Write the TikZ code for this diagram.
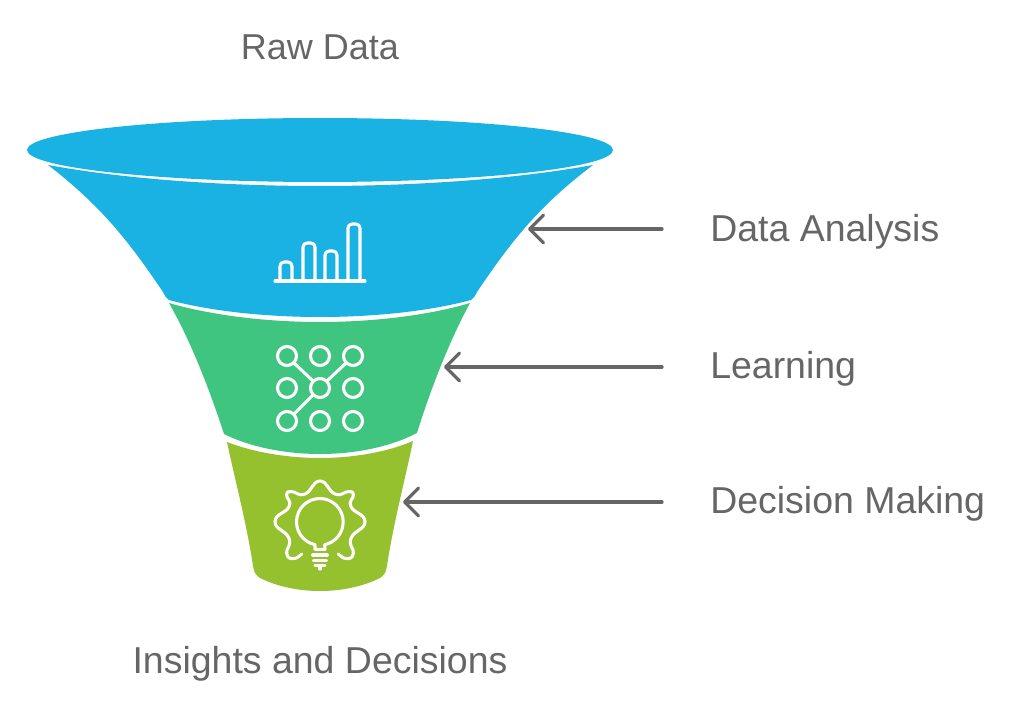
\documentclass[tikz,border=0pt]{standalone}
\usepackage{fontspec}
\setmainfont{Liberation Sans}
\usetikzlibrary{arrows.meta}
\definecolor{fblue}{HTML}{1AB1E3}
\definecolor{fgreen}{HTML}{40C580}
\definecolor{flime}{HTML}{95C12F}
\definecolor{ftext}{HTML}{666666}
\tikzset{
  lab/.style={text=ftext,font=\fontsize{28.1}{31}\selectfont,inner sep=0pt},
  pointer/.style={draw=ftext,line width=2.4pt,line cap=round,-{Straight Barb[length=10.5pt,width=21pt,round]}},
  icon/.style={draw=white,line width=2.3pt,line cap=round,line join=round},
  thinicon/.style={draw=white,line width=2.3pt,line cap=round,line join=round},
}
\begin{document}
\begin{tikzpicture}[x=0.75pt,y=-0.75pt]
\useasboundingbox[fill=white] (0,0) rectangle (1024,706);
% funnel
\fill[fblue] (320,150) ellipse [x radius=293, y radius=32];
\fill[fblue] (48,165) .. controls (130,180) and (230,186) .. (320,186)
  .. controls (410,186) and (510,180) .. (593,165)
  .. controls (540,205) and (512,240) .. (477,292)
  .. controls (475,296) and (474,298) .. (471,300)
  .. controls (430,311) and (375,317) .. (320,317)
  .. controls (265,317) and (210,311) .. (169,300)
  .. controls (166,298) and (165,296) .. (163,292)
  .. controls (128,240) and (100,205) .. (48,165) -- cycle;
\fill[fgreen] (169,303) .. controls (210,315) and (265,322) .. (320,322)
  .. controls (375,322) and (430,315) .. (470,303)
  .. controls (450,340) and (432,385) .. (417,433)
  .. controls (390,447) and (355,454) .. (320,454)
  .. controls (285,454) and (250,447) .. (224,434)
  .. controls (208,385) and (190,340) .. (169,303) -- cycle;
\fill[flime] (227,442) .. controls (255,453) and (290,458) .. (320,458)
  .. controls (350,458) and (385,453) .. (413,441)
  .. controls (405,480) and (393,525) .. (387,566)
  .. controls (386,573) and (384,575) .. (380,578)
  .. controls (362,587) and (340,591) .. (320,591)
  .. controls (300,591) and (278,587) .. (260,578)
  .. controls (256,575) and (254,573) .. (253,566)
  .. controls (247,525) and (235,480) .. (227,442) -- cycle;
% bar chart icon
\draw[icon] (275,281) -- (365,281);
\draw[icon,rounded corners=3pt] (280,281) -- (280,262) -- (292,262) -- (292,281);
\draw[icon,rounded corners=3pt] (303,281) -- (303,243) -- (315,243) -- (315,281);
\draw[icon,rounded corners=3pt] (325,281) -- (325,251) -- (337,251) -- (337,281);
\draw[icon,rounded corners=3pt] (348,281) -- (348,224) -- (360,224) -- (360,281);
% network icon
\foreach \cx in {287,320,353}\foreach \cy in {356,388,421}{
  \draw[thinicon] (\cx,\cy) circle [radius=9.5];
}
\draw[thinicon] (294,363) -- (313,381);
\draw[thinicon] (346,363) -- (327,381);
\draw[thinicon] (313,395) -- (294,414);
% gear and bulb icon
\begin{scope}[shift={(260,470)},x=0.25pt,y=-0.25pt]
\draw[thinicon] plot[smooth,tension=0.9] coordinates {(125,252) (100,266) (80,250) (87,205) (45,155) (87,110) (80,75) (95,65) (135,72) (180,33) (225,72) (265,65) (280,75) (273,110) (315,155) (273,205) (280,250) (260,266) (235,252)};
\draw[thinicon] (165,238) -- (165,224) arc[start angle=102,end angle=438,radius=70] -- (195,238) -- cycle;
\draw[thinicon] (158,255) -- (202,255);
\draw[thinicon] (160,272) -- (200,272);
\draw[thinicon] (165,287) -- (195,287);
\draw[thinicon] (180,287) -- (180,297);
\end{scope}
% labels
\node[lab,font=\fontsize{27}{30}\selectfont] (raw) at (320,47) {Raw Data};
\node[lab] (out) at (320,664) {Insights and Decisions};
\node[lab,anchor=west] (da) at (710,232) {Data Analysis};
\node[lab,anchor=west] (le) at (710,369) {Learning};
\node[lab,anchor=west] (dm) at (710,504) {Decision Making};
% connectors
\coordinate (daS) at (662,229); \coordinate (daT) at (528,229);
\coordinate (leS) at (662,367); \coordinate (leT) at (444,367);
\coordinate (dmS) at (662,502); \coordinate (dmT) at (403,502);
\draw[pointer] (daS) -- (daT);
\draw[pointer] (leS) -- (leT);
\draw[pointer] (dmS) -- (dmT);
\end{tikzpicture}
\end{document}
